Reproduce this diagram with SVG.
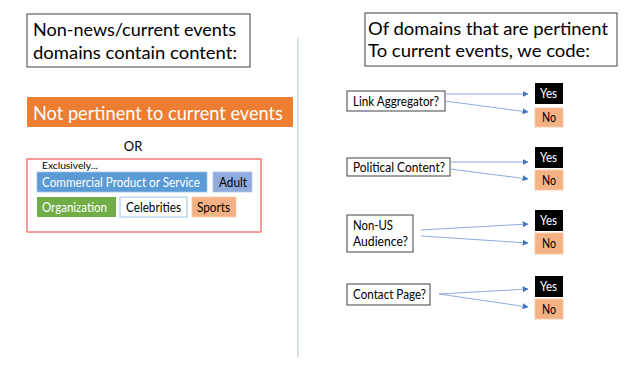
<svg xmlns="http://www.w3.org/2000/svg" width="640" height="365" viewBox="0 0 640 365">
<style>
text{font-family:Lato,"Open Sans","Liberation Sans",sans-serif;fill:#000}
.title{font-size:17.5px}
.q{fill:#fff;stroke:#404040;stroke-width:1}
.ql{font-size:12.5px}
.yes{fill:#000}
.no{fill:#f4b183;stroke:#f8cbad;stroke-width:1}
.yn{font-size:12.5px}
.conn line{stroke:#8faadc;stroke-width:1}
</style>
<defs>
<marker id="ah" viewBox="0 0 10 10" refX="9" refY="5" markerWidth="6" markerHeight="6" orient="auto" markerUnits="userSpaceOnUse">
<path d="M0,0 L10,5 L0,10 z" fill="#4472c4"/>
</marker>
</defs>
<rect width="640" height="365" fill="#fff"/>
<line x1="298" y1="38" x2="298" y2="357" stroke="#c9d6ec" stroke-width="1.5"/>

<g id="left-title">
<rect x="27" y="14" width="223" height="53" fill="#fff" stroke="#404040" stroke-width="1"/>
<text class="title" x="33" y="36" textLength="203" lengthAdjust="spacingAndGlyphs">Non-news/current events</text>
<text class="title" x="33" y="59" textLength="204" lengthAdjust="spacingAndGlyphs">domains contain content:</text>
</g>

<g id="not-pertinent">
<rect x="27" y="97" width="266" height="30" fill="#ed7d31"/>
<text x="33" y="120" font-size="19.5" style="fill:#fff" textLength="250" lengthAdjust="spacingAndGlyphs">Not pertinent to current events</text>
</g>

<g id="or">
<text x="133" y="151" font-size="13" text-anchor="middle">OR</text>
</g>

<g id="exclusively">
<rect x="27" y="159" width="234" height="73" fill="#fff" stroke="#f05a5a" stroke-width="1.2"/>
<text x="42" y="169" font-size="9.5" textLength="56" lengthAdjust="spacingAndGlyphs">Exclusively...</text>
</g>
<g id="commercial">
<rect x="37" y="172" width="170" height="20" fill="#5b9bd5" stroke="#9dc3e6" stroke-width="0.8"/>
<text x="42" y="187" font-size="13" style="fill:#fff" textLength="158" lengthAdjust="spacingAndGlyphs">Commercial Product or Service</text>
</g>
<g id="adult">
<rect x="213" y="172" width="39" height="20" fill="#8faadc" stroke="#b4c7e7" stroke-width="0.8"/>
<text x="219" y="187" font-size="13" textLength="28" lengthAdjust="spacingAndGlyphs">Adult</text>
</g>
<g id="organization">
<rect x="37" y="197" width="79" height="20" fill="#70ad47"/>
<text x="42" y="212" font-size="13" style="fill:#fff" textLength="65" lengthAdjust="spacingAndGlyphs">Organization</text>
</g>
<g id="celebrities">
<rect x="120" y="197" width="67" height="20" fill="#fff" stroke="#9dc3e6" stroke-width="1"/>
<text x="126" y="212" font-size="13" textLength="55" lengthAdjust="spacingAndGlyphs">Celebrities</text>
</g>
<g id="sports">
<rect x="192" y="197" width="44" height="20" fill="#f4b183" stroke="#f8cbad" stroke-width="0.8"/>
<text x="197" y="212" font-size="13" textLength="33" lengthAdjust="spacingAndGlyphs">Sports</text>
</g>

<g id="right-title">
<rect x="365" y="13" width="252" height="53" fill="#fff" stroke="#404040" stroke-width="1"/>
<text class="title" x="368" y="35" textLength="240" lengthAdjust="spacingAndGlyphs">Of domains that are pertinent</text>
<text class="title" x="368" y="57" textLength="222" lengthAdjust="spacingAndGlyphs">To current events, we code:</text>
</g>

<g id="link-aggregator">
<rect class="q" x="347" y="91" width="98" height="20"/>
<text class="ql" x="353" y="105.5" textLength="86" lengthAdjust="spacingAndGlyphs">Link Aggregator?</text>
</g>
<g id="la-yes"><rect class="yes" x="535" y="83" width="28" height="21"/><text class="yn" x="540" y="98" style="fill:#fff" textLength="17" lengthAdjust="spacingAndGlyphs">Yes</text></g>
<g id="la-no"><rect class="no" x="535" y="108" width="28" height="19"/><text class="yn" x="542" y="122" textLength="14" lengthAdjust="spacingAndGlyphs">No</text></g>

<g id="political-content">
<rect class="q" x="347" y="158" width="103" height="18"/>
<text class="ql" x="353" y="171.5" textLength="92" lengthAdjust="spacingAndGlyphs">Political Content?</text>
</g>
<g id="pc-yes"><rect class="yes" x="535" y="147" width="28" height="21"/><text class="yn" x="540" y="162" style="fill:#fff" textLength="17" lengthAdjust="spacingAndGlyphs">Yes</text></g>
<g id="pc-no"><rect class="no" x="535" y="170" width="28" height="20"/><text class="yn" x="542" y="185" textLength="14" lengthAdjust="spacingAndGlyphs">No</text></g>

<g id="non-us-audience">
<rect class="q" x="347" y="215" width="66" height="37"/>
<text class="ql" x="353" y="230" textLength="40" lengthAdjust="spacingAndGlyphs">Non-US</text>
<text class="ql" x="353" y="246" textLength="55" lengthAdjust="spacingAndGlyphs">Audience?</text>
</g>
<g id="nu-yes"><rect class="yes" x="535" y="210" width="28" height="21"/><text class="yn" x="540" y="225" style="fill:#fff" textLength="17" lengthAdjust="spacingAndGlyphs">Yes</text></g>
<g id="nu-no"><rect class="no" x="535" y="233" width="28" height="21"/><text class="yn" x="542" y="248" textLength="14" lengthAdjust="spacingAndGlyphs">No</text></g>

<g id="contact-page">
<rect class="q" x="347" y="284" width="83" height="21"/>
<text class="ql" x="353" y="299" textLength="73" lengthAdjust="spacingAndGlyphs">Contact Page?</text>
</g>
<g id="cp-yes"><rect class="yes" x="535" y="276" width="28" height="21"/><text class="yn" x="540" y="291" style="fill:#fff" textLength="17" lengthAdjust="spacingAndGlyphs">Yes</text></g>
<g id="cp-no"><rect class="no" x="535" y="299" width="28" height="20"/><text class="yn" x="542" y="314" textLength="14" lengthAdjust="spacingAndGlyphs">No</text></g>

<g id="connectors" class="conn">
<line x1="445" y1="94" x2="528" y2="94" marker-end="url(#ah)"/>
<line x1="445" y1="101" x2="528" y2="112" marker-end="url(#ah)"/>
<line x1="450" y1="162" x2="528" y2="162" marker-end="url(#ah)"/>
<line x1="450" y1="169" x2="528" y2="179" marker-end="url(#ah)"/>
<line x1="421" y1="230" x2="528" y2="224" marker-end="url(#ah)"/>
<line x1="421" y1="236" x2="528" y2="243" marker-end="url(#ah)"/>
<line x1="439" y1="294" x2="528" y2="289" marker-end="url(#ah)"/>
<line x1="439" y1="294" x2="528" y2="307" marker-end="url(#ah)"/>
</g>
</svg>
